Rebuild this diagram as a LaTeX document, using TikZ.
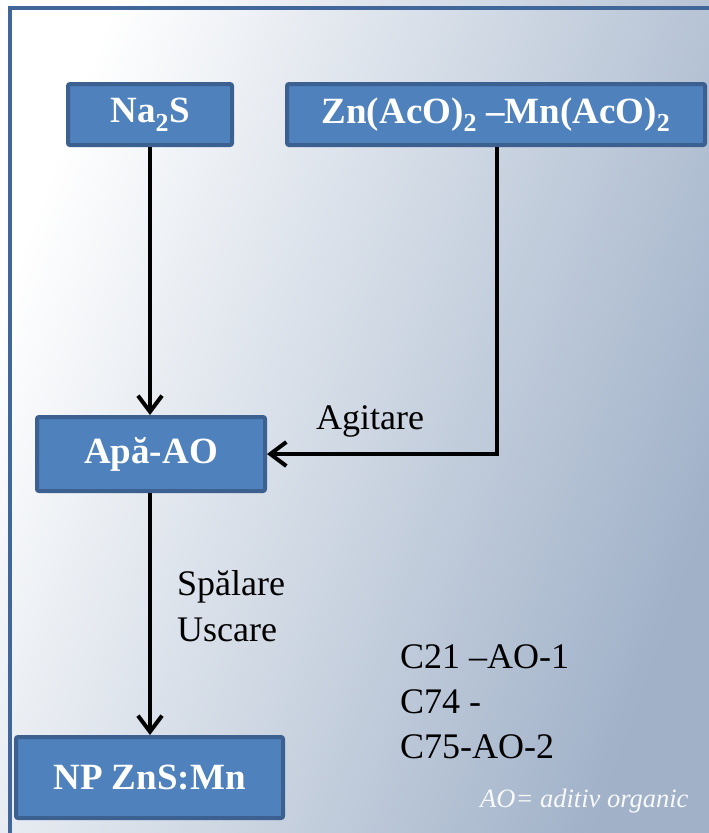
\documentclass[tikz,border=0pt]{standalone}
\usepackage{fontspec}
\setmainfont{Liberation Serif}
\usepackage{tikz}
\usetikzlibrary{positioning,arrows.meta}
\usepackage{xcolor}
\definecolor{boxfill}{HTML}{4F81BD}
\definecolor{boxline}{HTML}{3C6191}
\definecolor{framec}{HTML}{41669A}
\definecolor{slate}{HTML}{A0B1C8}
\definecolor{slatemid}{HTML}{E4E8EE}

\begin{document}
\begin{tikzpicture}[x=1pt, y=-1pt,
    proc/.style={rectangle, rounded corners=2pt, fill=boxfill, draw=boxline, line width=4pt,
        text=white, font=\fontsize{37}{44}\selectfont\bfseries, inner sep=0pt},
    lbl/.style={font=\fontsize{36}{46}\selectfont, align=left, inner sep=0pt},
    arr/.style={line width=4pt, -{Straight Barb[length=16pt, width=24pt, line width=4pt]}}]
        % background
        \useasboundingbox (0,0) rectangle (709,833);
        \shade[left color=white, middle color=slatemid, right color=slate, shading angle=70]
            (0,0) rectangle (709,833);
        \draw[framec, line width=4pt] (10,835) -- (10,8) -- (711,8);

        % Sources
        \node[proc, minimum width=164pt, minimum height=61pt] (na2s) at (150,114.5) {Na\textsubscript{2}S};
        \node[proc, minimum width=418pt, minimum height=61pt] (zn) at (496,114.5) {Zn(AcO)\textsubscript{2} –Mn(AcO)\textsubscript{2}};

        % Mixing
        \node[proc, minimum width=228pt, minimum height=74pt] (apa) at (151,454) {Apă-AO};

        % Product
        \node[proc, minimum width=267pt, minimum height=81pt] (np) at (149.5,777.5) {NP ZnS:Mn};

        \draw[arr] (na2s.south) -- (na2s.south |- apa.north);
        \draw[arr, rounded corners=0pt] (zn.south -| 497,0) |- (apa.east);
        \draw[arr] (apa.south -| na2s.south) -- (na2s.south |- np.north);

        % Annotations (base = last line)
        \node[lbl, anchor=base west] (agit) at (316,429) {Agitare};
        \node[lbl, anchor=base west] (spal) at (177,641) {Spălare\\Uscare};
        \node[lbl, font=\fontsize{36}{45}\selectfont, anchor=base west] (codes) at (400,758) {C21 –AO-1\\C74 -\\C75-AO-2};
        \node[font=\fontsize{26.5}{30}\selectfont\itshape, text=white!94!slate, anchor=base west, inner sep=0pt] (legend) at (480,807) {AO= aditiv organic};
    \end{tikzpicture}
\end{document}
